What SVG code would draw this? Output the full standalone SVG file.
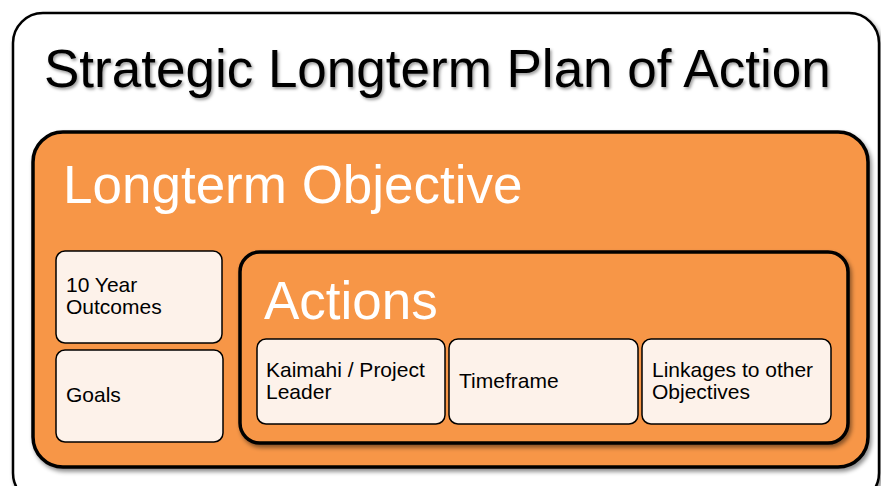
<svg xmlns="http://www.w3.org/2000/svg" width="881" height="486" viewBox="0 0 881 486">
  <defs>
    <filter id="shadow" x="-10%" y="-10%" width="120%" height="130%">
      <feDropShadow dx="2" dy="3" stdDeviation="2" flood-color="#000" flood-opacity="0.45"/>
    </filter>
    <filter id="textShadow" x="-5%" y="-20%" width="110%" height="150%">
      <feDropShadow dx="1.5" dy="2" stdDeviation="1.5" flood-color="#000" flood-opacity="0.4"/>
    </filter>
  </defs>
  <style>
    .plan { fill: #ffffff; stroke: #000; stroke-width: 2.5; }
    .orange { fill: #F79646; stroke: #000; stroke-width: 3.5; }
    .item { fill: #FDF2EA; stroke: #000; stroke-width: 1.5; }
    .big { font-family: "Liberation Sans", Arial, sans-serif; font-size: 53px; }
    .small { font-family: "Liberation Sans", Arial, sans-serif; font-size: 21px; fill: #000; }
  </style>

  <!-- outer container -->
  <g id="plan">
    <rect class="plan" x="13" y="13" width="866" height="490" rx="30" filter="url(#shadow)"/>
    <text class="big" x="44" y="87" fill="#000" filter="url(#textShadow)">Strategic Longterm Plan of Action</text>
  </g>

  <!-- objective panel -->
  <g id="objective">
    <rect class="orange" x="33" y="132" width="835" height="335" rx="30" filter="url(#shadow)"/>
    <text class="big" x="63" y="203" fill="#fff">Longterm Objective</text>
  </g>

  <g id="outcomes">
    <rect class="item" x="56" y="251" width="166" height="92" rx="9"/>
    <text class="small" x="66" y="292">10 Year</text>
    <text class="small" x="66" y="314">Outcomes</text>
  </g>

  <g id="goals">
    <rect class="item" x="56" y="350" width="167" height="92" rx="9"/>
    <text class="small" x="66" y="402">Goals</text>
  </g>

  <!-- actions panel -->
  <g id="actions">
    <rect class="orange" x="240" y="252" width="608" height="191" rx="20" stroke-width="4" filter="url(#shadow)"/>
    <text class="big" x="264" y="319" fill="#fff">Actions</text>
  </g>

  <g id="leader">
    <rect class="item" x="257" y="339" width="188" height="85" rx="9"/>
    <text class="small" x="266" y="377">Kaimahi / Project</text>
    <text class="small" x="266" y="399">Leader</text>
  </g>

  <g id="timeframe">
    <rect class="item" x="449" y="339" width="189" height="85" rx="9"/>
    <text class="small" x="459" y="388">Timeframe</text>
  </g>

  <g id="linkages">
    <rect class="item" x="642" y="339" width="189" height="85" rx="9"/>
    <text class="small" x="652" y="377">Linkages to other</text>
    <text class="small" x="652" y="399">Objectives</text>
  </g>

  <g id="connectors"/>
</svg>
